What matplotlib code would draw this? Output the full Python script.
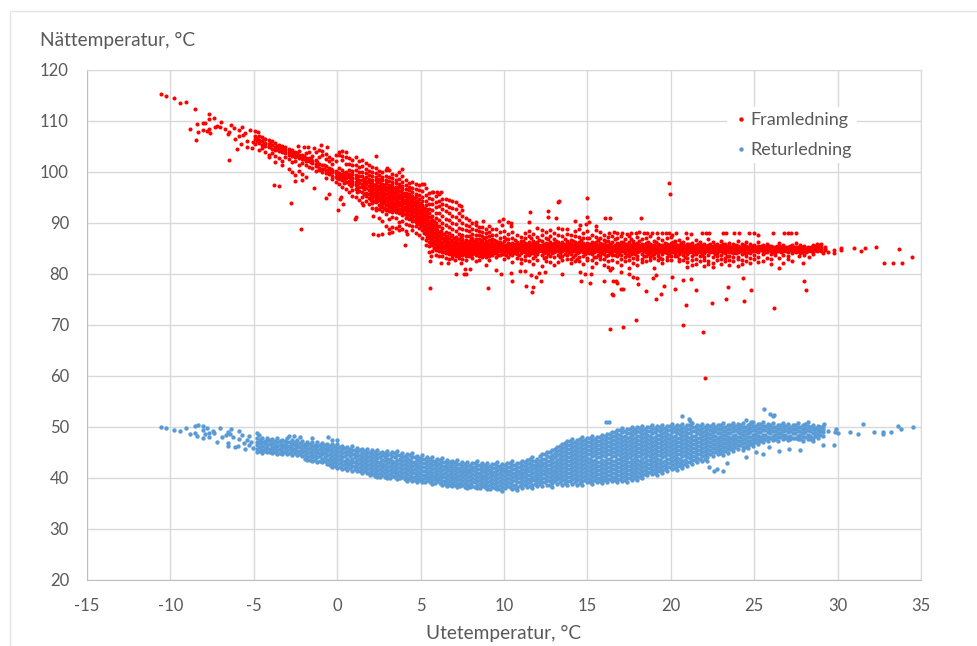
import matplotlib
matplotlib.use("Agg")
from matplotlib import pyplot as plt
from matplotlib.lines import Line2D

plt.rcParams['font.family'] = ['Lato', 'DejaVu Sans']
plt.rcParams['axes.unicode_minus'] = False

x_ticks = [-15, -10, -5, 0, 5, 10, 15, 20, 25, 30, 35]
y_ticks = [20, 30, 40, 50, 60, 70, 80, 90, 100, 110, 120]

# single points, (ute, natt)
fram_tail = [(-10.54,115.2),(-10.26,114.8),(-9.78,114.4),(-9.44,113.5),(-9.06,113.6),(-8.52,112.3),(-8.82,108.4),(-8.38,109.4),
    (-8.32,107.8),(-8.48,106.2),(-8.06,108.1),(-8.02,109.6),(-7.9,109.6),(-7.78,108),(-7.7,108.4),(-7.66,111.2),(-7.68,110.4),
    (-7.4,110.5),(-7.62,107.6),(-7.33,108.8),(-7.23,108.9),(-7.03,108.8),(-6.95,109.8),(-6.73,108.3),(-6.5,107.8),(-6.55,107.3),
    (-6.35,109.1),(-6.17,108.6),(-6.15,106.3),(-6,104.5),(-6.5,102.2),(-5.87,108.1),(-5.73,108.8),(-5.87,106.9),(-5.75,105.5),
    (-5.63,107.1),(-5.53,107.6),(-5.43,104.9),(-5.39,106),(-5.13,104.7),(-5.23,108.1),(-5.07,105.8),(-4.73,107.7)]

fram_low = [(-3.8,97.3),(-3.5,97.2),(-2.75,93.9),(-2.2,88.8),(-1.4,96.8),(-0.65,94.9),(-0.5,95.7),(0.05,92.5),(0.15,94.7),(0.25,95),
    (0.35,93.6),(1.05,90.8),(1.1,91.1),(1.55,93.4),(2.15,91.3),(2.35,92.4),(2.15,87.8),(2.45,87.6),(2.7,87.7),(3.1,88),(3.3,88.1),
    (3.7,88.5),(4.05,85.6),(4.2,87.7),(5.55,77.2),(5.55,82.4),(5.6,83.4),(5.5,84.3),(9.05,77.2),(6.25,82.1),(6.65,82.1),(7.05,82.6),
    (7.1,79.9),(7.6,80),(7.75,80),(7.65,80.9),(7.95,81),(7.4,82.1),(6.9,83.1),(8.3,82.4),(8.9,81.8),(9.54,80.7),(9.8,80),
    (10.5,78.5),(10.4,80.2),(10.94,80.5),(11.28,80.5),(11.3,77.6),(11.74,77.3),(11.7,76.4),(11.64,79.8),(11.94,79.4),(12.1,80.1),
    (12.2,78.5),(12.44,80.4),(13.48,80),(14.54,80.3),(14.62,78.5),(14.88,80),(15.14,78.1),(15.2,80),(15.97,78.5),(16.37,80.7),
    (16.53,78.6),(16.7,78.6),(16.8,78.1),(17.03,77.1),(17.13,77),(16.47,76),(16.55,75.8),(17.03,80.4),(17.5,80),(17.73,79.4),(18,79.1),
    (18.05,77.9),(18.53,76.7),(18.93,79.1),(19.13,79.8),(19.57,77.6),(19.43,76),(19.11,75.1),(20.05,79.3),(20.25,77.1),(20.71,78.7),
    (21.23,79),(21.53,76.8),(20.91,73.9),(22.49,74.3),(23.29,75),(23.41,77.4),(24.41,74.7),(24.33,79.1),(24.79,76.8),(26.18,73.2),
    (27.98,78.6),(28.12,76.8),(16.37,69.1),(17.15,69.6),(17.89,71),(20.73,70),(21.95,68.5),(22.03,59.5)]

fram_high = [(19.89,97.7),(19.93,95.7),(14.96,94.8),(13.24,94),(13.3,94.3),(12.64,92.2),(11.54,92.1),(12.66,91.1),(13.12,91),(14.96,91.1),
    (16.03,91),(16.33,91),(18.23,91),(11.5,90.1),(9.94,90.8),(9.7,90.3),(9.88,89.5),(10.24,90.1),(10.4,89.9),(10.44,89.3),(14.24,90.3),
    (15.1,90.2),(14.93,89.7),(14.57,89.6),(15.5,89.3),(2.35,103),(-2.35,105),(-2,104.8),(-1.75,104.8),(-1.4,104.7),(-0.95,105.3),
    (-0.6,104.9),(3,100.7),(3.9,100.6),(5.2,97.5),(5.75,96.1),(6,96.1),(6.2,96.1),(7.45,93.2),(7.5,92.4),(8.35,90.2),(8.75,90.4)]

fram_right = [(30.18,85),(30.2,84.6),(29.76,84),(29.8,84.7),(30.98,85),(31.4,84.5),(31.66,85),(32.3,85.3),(32.78,82),(33.3,82),
    (33.66,84.9),(33.85,82),(34.44,83.2),(29.4,84.2),(29.1,84),(28.3,83.2),(28.5,83.9),(27.95,82),(27.7,83.4)]

# the 88 degree row in the flat part
fram_row_x = [16.3,16.6,16.8,17.1,17.4,17.6,17.9,18.1,18.4,18.6,18.9,19.2,19.5,19.7,19.9,20.1,20.3,20.9,21.2,21.9,22.1,22.3,23.1,23.3,
    23.8,24.1,24.7,25,25.2,26.1,26.8,27,27.2,27.5]
fram_row_y = [88,88.1,87.9,88,87.7,88,88,88.1,88,87.9,88,88,88,87.9,88,87.6,88,88,87.7,88,88,88,88,87.9,88,88,88,88,87.5,88,88,88,88,88]

# thick parts: single dots can't be told apart here, so these columns are
# estimates that follow the extent of the band, not the original measurements
fram_cold = [
(-4.9,[107.9,107,106.3,105.4]),(-4.7,[106.9,106.2,105.6,104.2]),(-4.5,[106.7,106,105.3,104.6]),(-4.3,[106.4,105.7,105.1,103.9]),
(-4.1,[106.1,105.4,104.8,103.3,102.9]),(-3.9,[105.9,105.2,104.5,103.7]),(-3.7,[105.6,104.9,104.2,103.1,101.9]),(-3.5,[105.3,104.7,104.1,102.7]),
(-3.3,[105.1,104.4,103.8,102.1,101.2]),(-3.1,[104.9,104.2,103.6,102.9]),(-2.9,[104.4,103.9,103.3,102.4,100.6]),(-2.7,[104.2,103.7,103.1,101.8,99.9]),
(-2.5,[103.9,103.4,102.9,102.1,99.4,98.2]),(-2.3,[104,103.2,102.6,101.3,100.2]),(-2.1,[103.2,102.9,102.4,101.7,99.5,98.3]),(-1.9,[103.6,102.7,102.1,101.2,98.9]),
(-1.7,[103.9,102.6,102,100.9]),(-1.5,[103.1,102.1,101.6,100.7]),(-1.3,[103.8,102.3,101.5,101,100.1]),(-1.1,[104.3,102.9,101.4,100.8,100.3]),
(-0.9,[104.1,103.2,101.3,100.6,100]),(-0.7,[103.4,102.5,101,100.3,99.7,98.8]),(-0.5,[102.9,102.1,100.8,100.1,99.5]),(-0.3,[102.4,101.5,100.4,99.9,99.2,98.5]),
(-0.1,[103.3,102,100.2,99.7,98.9,97.9]),(0.1,[103.9,103.2,100.7,99.8,99.2,98.6,97.5]),(0.3,[104,103.1,102.2,100.3,99.5,98.9,98.3,97]),(0.5,[103.8,102.9,101.5,100,99.3,98.7,98,96.6]),
(0.7,[102.6,101.4,100.4,99.5,98.9,98.2,97.5,96.1]),(0.9,[102.3,101.2,100.2,99.5,98.7,98.1,97.5,96.4,95.3]),(1.1,[102.8,101.3,100.3,99.4,98.7,98,97.3,96.5,95.1]),(1.3,[102.1,100.9,100,99.2,98.4,97.7,97,96.2,94.4]),
(1.5,[102.3,101,100,99.1,98.3,97.6,96.9,96.1,95.1,93.9]),(1.7,[101.7,100.6,99.7,98.9,98.2,97.5,96.7,95.9,95.2,94.2]),(1.9,[101.3,100.1,99.3,98.6,97.9,97.2,96.4,95.7,94.9,93.7]),(2.1,[100.9,100,99.1,98.4,97.7,97,96.3,95.6,94.8,93.8,92.9]),
(2.3,[100.8,99.8,99,98.3,97.6,96.8,96.1,95.4,94.7,94,92.8]),(2.5,[100.1,99.3,98.6,97.9,97.2,96.5,95.8,95.1,94.4,93.4,92.6,90.9]),(2.7,[99.9,99,98.3,97.6,96.9,96.2,95.5,94.8,94.1,93.3,92.3,90.3]),(2.9,[100.4,99.2,98.4,97.7,97,96.3,95.6,94.9,94.2,93.5,92.5,91.6,89.4]),
(3.1,[100.3,98.9,98.1,97.4,96.7,96,95.3,94.6,93.9,93.1,92.3,90.7,88.7]),(3.3,[99.6,98.8,98,97.3,96.6,95.9,95.2,94.5,93.8,93,92.1,91.1,89.2]),(3.5,[99.4,98.4,97.7,97,96.3,95.6,94.9,94.2,93.5,92.8,92,90.9,88.9]),(3.7,[99.9,98.5,97.6,96.9,96.2,95.5,94.8,94.1,93.4,92.7,91.9,90.1,89.3]),
(3.9,[99.1,97.9,97.2,96.5,95.8,95.1,94.4,93.7,93,92.3,91.5,90.4,88.7]),(4.1,[98.3,97.3,96.6,95.9,95.2,94.5,93.8,93.1,92.4,91.7,90.9,89.8,88.4]),(4.3,[97.7,97,96.4,95.7,95,94.3,93.6,92.9,92.2,91.5,90.8,89.6]),(4.5,[97.9,96.8,96,95.3,94.6,93.9,93.2,92.5,91.8,91.1,90.4,89.4,88.5]),
(4.7,[97.6,96.5,95.7,95,94.3,93.6,92.9,92.2,91.5,90.8,90.1,89.3,87.9]),(4.9,[97.4,96.4,95.4,94.6,93.9,93.2,92.5,91.8,91.1,90.4,89.7,89,87.5]),(5.1,[97.5,96.2,95,94.2,93.5,92.8,92.1,91.4,90.7,90,89.3,88.6,87]),(5.3,[96.8,95.4,94.3,93.4,92.6,91.9,91.2,90.5,89.8,89.1,88.4,87.7,86.6,85.6]),
(5.5,[95.9,94.8,93.7,92.7,91.9,91.1,90.4,89.7,89,88.3,87.6,86.9,86.2,85.5]),(5.7,[96,94.6,93.6,92.5,91.4,90.6,89.8,89.1,88.4,87.7,87,86.3,85.6,84.5]),(5.9,[95.2,94,93,91.9,90.9,89.9,89,88.2,87.5,86.8,86.1,85.4,84.7,83.7]),(6.1,[95.6,94.3,93.2,91.8,90.6,89.4,88.1,87.3,86.6,85.9,85.2,84.4,83.4]),
(6.3,[94.7,93.7,92.6,91.3,90,88.9,87.8,87,86.3,85.6,84.9,84.2,83.5]),(6.5,[94.6,93.5,92.2,90.8,89.6,88.2,87.1,86.5,85.9,85.3,84.7,84,83.1]),(6.7,[94.5,93.1,91.9,90.6,89.2,87.9,86.9,86.3,85.7,85.1,84.5,83.9,82.9]),(6.9,[94.3,92.9,91.4,90,88.7,87.6,86.6,86,85.4,84.8,84.2,83.6]),
(7.1,[94.1,92.6,91.2,89.8,88.4,87.2,86.4,85.8,85.2,84.6,84,83.4]),(7.3,[93.5,91.9,90.5,89,87.8,86.8,86.1,85.5,84.9,84.3,83.7,83]),(7.5,[91.4,90,88.7,87.6,86.7,86,85.4,84.8,84.2,83.6,82.9]),(7.7,[90.9,89.6,88.5,87.4,86.6,85.9,85.3,84.7,84.1,83.5,82.7]),
(7.9,[90.6,89.4,88.3,87.3,86.5,85.8,85.2,84.6,84,83.4]),(8.1,[89.9,88.8,87.8,86.9,86.2,85.6,85,84.4,83.8,83]),(8.3,[89.6,88.5,87.6,86.8,86.1,85.5,84.9,84.3,83.6]),(8.5,[89.2,88.3,87.5,86.7,86,85.4,84.8,84.2,83.4,82.6]),
(8.7,[89.1,88.1,87.3,86.6,85.9,85.3,84.7,84.1,83.3]),(8.9,[88.7,87.9,87.1,86.4,85.8,85.2,84.6,84,83.2]),(9.1,[89.3,88.2,87.4,86.6,85.9,85.3,84.7,84.1,83.5,82.6]),(9.3,[88.8,87.6,86.8,86.1,85.5,84.9,84.3,83.7]),
]

# in between the columns above, where the picture is solid
fram_fill = [
(-4.8,[106.6,105.9]),(-4.4,[106.3,105.5]),(-4,[105.7,105]),(-3.6,[105.1,104.4]),(-3.2,[104.7,104]),(-2.8,[104,103.5]),(-2.4,[103.6,103]),(-2,[103,102.5]),(-1.6,[102.4,101.8]),(-1.2,[101.9,101.2]),
(-0.8,[101.2,100.5]),(-0.4,[100.6,99.9]),(0,[100,99.4,98.8]),(0.4,[99.7,99.1,98.5,97.8]),(0.8,[99.2,98.5,97.8,97.2]),(1.2,[98.9,98.2,97.5,96.8,96]),(1.6,[98.6,97.9,97.2,96.5,95.7]),(2,[98.1,97.4,96.7,96,95.3,94.4]),
(2.2,[97.3,96.6,95.9,95.2,94.3]),(2.4,[97.9,97.1,96.4,95.7,95,94.2]),(2.6,[97.5,96.8,96.1,95.4,94.7,93.9,93]),(2.8,[97.3,96.6,95.9,95.2,94.5,93.8,92.9]),(3,[97,96.3,95.6,94.9,94.2,93.5,92.7]),(3.2,[96.9,96.2,95.5,94.8,94.1,93.4,92.6]),
(3.4,[96.7,96,95.3,94.6,93.9,93.2,92.4]),(3.6,[96.5,95.8,95.1,94.4,93.7,93,92.3]),(3.8,[96.2,95.5,94.8,94.1,93.4,92.7,92]),(4,[95.9,95.2,94.5,93.8,93.1,92.4,91.7]),(4.2,[95.6,94.9,94.2,93.5,92.8,92.1,91.3]),(4.4,[95.2,94.5,93.8,93.1,92.4,91.7,90.9]),
(4.6,[94.8,94.1,93.4,92.7,92,91.3,90.5]),(4.8,[94.2,93.5,92.8,92.1,91.4,90.7,89.9]),(5,[93.6,92.9,92.2,91.5,90.8,90.1,89.3]),(5.2,[92.9,92.2,91.5,90.8,90.1,89.4,88.7,87.9]),(5.4,[92.1,91.4,90.7,90,89.3,88.6,87.9,87.2]),(5.6,[91.1,90.3,89.6,88.9,88.2,87.5,86.8,86.1]),
(5.8,[90.3,89.5,88.7,87.9,87.2,86.5,85.8,85.1]),(6,[89.3,88.6,87.8,87,86.3,85.6,84.9]),(6.2,[88.4,87.6,86.9,86.2,85.5,84.8]),(6.4,[87.7,87,86.4,85.7,85,84.3]),(6.6,[87.4,86.7,86.1,85.5,84.9,84.3]),(6.8,[87.3,86.5,85.9,85.3,84.7,84.1]),
(7,[86.9,86.2,85.6,85,84.4,83.8]),(7.2,[86.7,86.1,85.5,84.9,84.3,83.7]),(7.4,[87.2,86.4,85.7,85.1,84.5,83.9]),(7.6,[86.3,85.6,85,84.4,83.8]),(7.8,[86.1,85.5,84.9,84.3,83.7]),(8,[86.7,85.9,85.3,84.7,84.1,83.5]),
(8.2,[86.4,85.8,85.2,84.6,84]),(8.4,[86.3,85.7,85.1,84.5,83.9]),(8.6,[86.2,85.6,85,84.4,83.8]),(8.8,[86.9,86.1,85.5,84.9,84.3,83.6]),(9,[86.2,85.6,85,84.4,83.9]),(9.2,[86.4,85.7,85.1,84.5,83.9]),(9.4,[86.6,85.8,85.2,84.6,84]),
(9.62,[86.3,85.6,85,84.4,83.6]),(9.88,[85.8,85.2,84.6,83.9]),(10.12,[86.7,85.7,85.1,84.5,83.7]),(10.38,[85.9,85.2,84.6,83.8]),(10.63,[86.6,85.8,85.2,84.6,84]),(10.88,[85.9,85.3,84.7,83.6]),(11.12,[86.4,85.6,85,84.4]),(11.38,[85.8,85.2,84.6,83.9]),
(11.63,[86.9,85.9,85.3,84.7,84.1]),(11.88,[86,85.4,84.8,84.2,83.4]),(12.12,[86.6,85.7,85.1,84.5]),(12.38,[85.9,85.3,84.7,84,83]),(12.63,[86.7,85.8,85.2,84.6,83.9]),(12.88,[85.8,85.2,84.6,84.1]),(13.12,[86.4,85.7,85.1,84.5]),(13.38,[85.9,85.3,84.7,84,83.2]),
(13.63,[86.8,85.8,85.2,84.6,83.8]),(13.88,[86,85.4,84.8,84.2]),(14.12,[86.5,85.6,85,84.4,83.3]),(14.38,[85.9,85.3,84.7,84,82.8]),(14.63,[86.6,85.8,85.2,84.6]),(14.88,[85.7,85.1,84.5,83.9]),(15.12,[86.9,85.9,85.3,84.7,84.1]),(15.38,[86,85.4,84.8,84.2,83.2]),
(15.63,[86.6,85.7,85.1,84.5,83.7]),(15.88,[85.9,85.3,84.7,84.1]),(16.12,[86.4,85.6,85,84.4,83.4]),(16.38,[85.8,85.2,84.6,84]),(16.63,[86.7,85.7,85.1,84.5,83.6]),(16.88,[85.8,85.2,84.6,83.9]),(17.12,[86.2,85.6,85,84.4]),(17.38,[85.8,85.2,84.6,83.7]),
(17.63,[86.8,85.7,85.1,84.5,83.9]),(17.88,[85.8,85.2,84.6,83.8]),(18.12,[86.4,85.6,85,84.4]),(18.38,[85.7,85.1,84.5,83.5]),(18.63,[86.2,85.6,85,84.4,83.8]),(18.88,[85.7,85.1,84.5,83.6]),(19.12,[86.3,85.5,84.9,84.3]),(19.38,[85.6,85,84.4,83]),
(19.63,[86.1,85.5,84.9,84.3]),(19.88,[85.6,85,84.4,83.6]),(20.12,[86.2,85.5,84.9,84.3]),(20.38,[85.6,85,84.4,83.5]),(20.63,[86,85.4,84.8,84.2]),(20.88,[85.5,84.9,84.3,83.3]),(21.12,[85.8,85.3,84.8,84.2]),(21.38,[85.5,84.9,84.4,83.8]),
(21.63,[85.9,85.3,84.8,84.2]),(21.88,[85.6,85,84.5,83.6]),(22.12,[85.4,84.9,84.4]),(22.38,[85.8,85.3,84.8,84.3]),(22.63,[85.6,85,84.5,83.8]),(22.88,[85.4,84.9,84.4]),(23.12,[85.8,85.2,84.7,84.2]),(23.38,[85.5,85,84.5,83.5]),
(23.63,[85.3,84.8,84.3]),(23.88,[85.6,85.1,84.6,84.1]),(24.12,[85.3,84.8,84.4]),(24.38,[85.6,85.1,84.6,84]),(24.63,[85.2,84.7,84.3]),(24.88,[85.5,85,84.5]),(25.12,[85.3,84.8,84.4]),(25.38,[85.5,85,84.6]),
(25.63,[85.2,84.8,84.3]),(25.88,[85.5,85,84.6]),(26.12,[85.2,84.7,84.3]),(26.38,[85.4,84.9,84.5]),(26.63,[85.2,84.7,84.2]),(26.88,[85.3,84.9,84.5]),(27.12,[85.4,85,84.6]),(27.38,[85.2,84.8,84.4]),
(27.63,[85.3,84.9,84.5]),(27.88,[85.2,84.7,84.3]),(28.12,[85.1,84.7,84.3]),(28.38,[85.3,84.9,84.5]),(28.63,[85.4,85,84.6]),(28.88,[85.6,85.1,84.7]),
]

fram_flat = [
(9.5,[88.7,87.5,86.5,85.9,85.3,84.7,84.1,83.2]),(9.75,[88.1,87,86.2,85.6,85,84.4,83.7]),(10,[88.3,87.2,86.4,85.7,85.1,84.5,83.9,82.8]),(10.25,[87.8,86.8,86,85.4,84.8,84.2,83.3]),
(10.5,[88.2,86.9,86.1,85.5,84.9,84.3,83.6,82.2]),(10.75,[87.5,86.3,85.7,85.1,84.5,83.9,83]),(11,[87.1,86.4,85.8,85.2,84.6,84,82.9,82.1]),(11.25,[87.9,87,86.1,85.5,84.9,84.3,83.4,82.7]),
(11.5,[88.4,87.3,86.3,85.6,85,84.4,83.7,82.4]),(11.75,[87.7,86.4,85.8,85.2,84.6,84,83.1,81.9]),(12,[88.9,87.2,86.3,85.7,85.1,84.5,83.8,82.7]),(12.25,[88.6,87.6,86.4,85.7,85.1,84.5,83.6,81.6]),
(12.5,[88.2,87,86.1,85.5,84.9,84.3,83.2,82.5]),(12.75,[88.5,87.3,86.3,85.6,85,84.4,83.5,82.2]),(13,[87.9,86.8,86,85.4,84.8,84.2,83.3,81.8]),(13.25,[88.9,87.5,86.2,85.6,85,84.4,83.7,82.3]),
(13.5,[88.7,87.4,86.2,85.6,85,84.4,83.4,82.6]),(13.75,[88.8,87.8,86.5,85.7,85.1,84.5,83.6,82.9]),(14,[87.6,86.6,85.8,85.2,84.6,83.9,82.9,82]),(14.25,[88.4,87.4,86.3,85.6,85,84.4,83.6,82.4]),
(14.5,[88.7,87.2,86.2,85.5,84.9,84.3,83.2,82.5]),(14.75,[87.9,86.9,86,85.4,84.8,84.2,83.5,81.9]),(15,[88.3,87,86.1,85.5,84.9,84.3,83.1,82.6]),(15.25,[87.5,86.3,85.7,85.1,84.5,83.8,82.7,81.4]),
(15.5,[88.6,87.1,86.2,85.6,85,84.4,83.3,82.1]),(15.75,[88.2,87,86.1,85.5,84.9,84.2,83.5,82.8]),(16,[87.6,86.6,85.8,85.2,84.6,83.9,82.9,81.8]),(16.25,[87.2,86.4,85.7,85.1,84.5,83.7,82.4,81.3]),
(16.5,[87.3,86.2,85.5,84.9,84.3,83.6,82.7,81.2]),(16.75,[86.9,86.1,85.5,84.9,84.3,83.4,82.2]),(17,[87.3,86.3,85.6,85,84.4,83.7,82.9,81.7]),(17.25,[86.8,85.9,85.3,84.7,84.1,83.2,82.4]),
(17.5,[87.4,86.2,85.5,84.9,84.3,83.5,82.6,81.1]),(17.75,[86.5,85.8,85.2,84.6,84,83.1,82.1]),(18,[87.2,86.1,85.5,84.9,84.3,83.4,82.8,81.7]),(18.25,[86.8,85.8,85.2,84.6,83.9,82.9,82.3]),
(18.5,[86.9,86,85.4,84.8,84.2,83.4,82.5]),(18.75,[87.3,85.8,85.2,84.6,84,83.2,82.7]),(19,[86.4,85.7,85.1,84.5,83.8,83,81.2]),(19.25,[87,85.9,85.3,84.7,84.1,83.4,82.6]),
(19.5,[86.6,85.7,85.1,84.5,83.8,82.9,82.1]),(19.75,[86.9,85.8,85.2,84.6,84,83.2,82.6]),(20,[87.2,86,85.4,84.8,84.2,83.5,82.7]),(20.25,[86.5,85.8,85.2,84.6,84,83.4]),
(20.5,[86.6,85.7,85.1,84.5,83.9,82.9,82.4]),(20.75,[86.3,85.6,85,84.4,83.7,82.6]),(21,[86.9,85.8,85.2,84.6,83.9,83.1,82.3,81.4]),(21.25,[86.1,85.5,84.9,84.3,83.5,82.7,81.7]),
(21.5,[86.6,85.7,85.1,84.5,83.8,82.9,81.9]),(21.75,[86.2,85.5,84.9,84.3,83.4,82.4]),(22,[85.9,85.3,84.7,84.1,83.2,82.7,81.6]),(22.25,[86.7,85.7,85.1,84.5,83.6,82.5,81.9]),
(22.5,[86.3,85.5,84.9,84.3,83.3,82.1,81.4]),(22.75,[85.9,85.3,84.7,84.1,83.4,82.6]),(23,[86.5,85.6,85,84.4,83.7,82.8,81.9]),(23.25,[85.8,85.2,84.6,84,83.1,82.4]),
(23.5,[86.1,85.4,84.8,84.2,83.4,82.7,81.7]),(23.75,[85.9,85.3,84.7,84,83.2,82.5]),(24,[86.4,85.5,84.9,84.3,83.3,82.8,81.6]),(24.25,[85.8,85.2,84.6,83.9,82.7,81.9]),
(24.5,[86.2,85.4,84.8,84.1,83.4,82.4]),(24.75,[85.9,85.3,84.7,84.1,83,82]),(25,[85.6,85,84.4,83.6,82.8]),(25.25,[86.3,85.5,84.9,84.3,83.3,82.2]),
(25.5,[85.6,85,84.5,83.8,82.4]),(25.75,[85.9,85.3,84.8,84.2,83.1]),(26,[85.5,85,84.5,83.9,82.8,81.9]),(26.25,[85.3,84.8,84.3,83.6]),
(26.5,[86,85.4,84.9,84.4,83.1,81.2]),(26.75,[85.6,85,84.5,83.7,82.1]),(27,[85.3,84.8,84.3,83.4,82.9]),(27.25,[85.7,85.1,84.6,84.1,82.4]),
(27.5,[86.1,85.3,84.8,84.3]),(27.75,[85.6,85.1,84.6,84.1]),(28,[85.4,84.9,84.5,83.7]),(28.25,[85.2,84.8,84.4]),
(28.5,[85.6,85.1,84.7,84.3]),(28.75,[85.9,85.3,84.9,84.5]),(29,[85.8,85.2,84.8,84.4]),(29.25,[85.3,84.9,84.6]),
]

ret_tail = [(-10.54,49.9),(-10.26,49.8),(-9.78,49.4),(-9.44,49.2),(-9.06,49.8),(-8.82,48.6),(-8.52,50.1),(-8.32,50.3),(-8.52,48.8),(-8.38,48.3),
    (-8.06,50.1),(-8.02,47.8),(-7.82,49.8),(-8.02,49.3),(-7.92,48.6),(-7.66,48.8),(-7.68,48),(-7.42,49.2),(-7.38,48.7),(-7.02,49.7),(-7.22,47),
    (-6.92,48),(-6.68,48.4),(-6.54,49),(-6.38,49.5),(-6.42,48.6),(-6.56,46.9),(-6.52,46.3),(-6.12,46.1),(-5.88,49.2),(-5.72,48.5),(-5.86,47.6),
    (-6.22,48),(-5.92,46.2),(-5.52,45.6),(-5.42,47.5),(-5.28,48.2),(-4.82,48.8),(-4.66,48.5),(-2.88,48.3),(-2.56,48.2),(-2.22,48),(-1.52,47.8),
    (-0.58,48),(-0.32,47.4),(-0.02,47.4),(-5.6,46.9),(-5.3,46.4),(-5.15,47),(-5.05,45.9)]

ret_right = [(29.2,50.5),(29.9,49.5),(30,48.8),(30.75,49),(31.2,48.6),(31.5,50.5),(32.2,49),(32.7,48.9),(32.75,48.6),(33.2,49),(33.6,50.2),
    (33.8,49.6),(34.5,49.9),(29.4,49.1),(29.85,48.9),(29.1,46.4),(29.8,46.5),(26.5,45.3),(27.1,45.6),(27.75,45.5),(25.5,44.6),(22.3,42.2),
    (22.6,41.3),(22.75,41.7),(23.15,41.4),(23.35,43),(24.5,44),(25.1,45),(25.9,46),(16.1,51),(16.3,51),(20.7,52.2),(21.1,51.6),(21.15,51.1),
    (24.5,51.4),(24.8,51),(25.6,53.5),(25.95,52.6),(26.1,52.1),(26.2,52.3)]

ret_cols = [
(-4.8,[47.9,47.1,46.4,45.7,45.1]),(-4.5,[47.8,47,46.2,45.5,44.8]),(-4.2,[47.9,47.2,46.5,45.8,45.1]),(-3.9,[47.6,46.8,46.1,45.4,44.8]),(-3.6,[47.8,47.1,46.3,45.5,44.7]),
(-3.3,[47.5,46.7,46,45.3,44.6]),(-3,[47.9,47.1,46.3,45.5,44.7]),(-2.7,[47.4,46.7,45.9,45.2,44.5]),(-2.4,[47.5,46.7,46,45.3,44.5]),(-2.1,[47.2,46.5,45.7,45,44.2]),
(-1.8,[47.1,46.4,45.6,44.9,44.1,43.5]),(-1.5,[47,46.3,45.5,44.7,44,43.3]),(-1.2,[47.1,46.3,45.5,44.8,44,43.2]),(-0.9,[46.8,46.1,45.3,44.6,43.8,43.1]),(-0.6,[46.7,45.9,45.2,44.4,43.6,42.8]),
(-0.3,[46.6,45.8,45,44.3,43.5,42.7,42.1]),(0,[46.7,45.9,45.1,44.3,43.5,42.7,42]),(0.3,[46.3,45.6,44.8,44,43.3,42.5,41.8]),(0.6,[46.1,45.3,44.6,43.8,43,42.3,41.6]),(0.9,[46.2,45.4,44.6,43.8,43.1,42.3,41.4]),
(1.2,[45.9,45.1,44.3,43.5,42.8,42,41.3]),(1.5,[45.6,44.9,44.1,43.4,42.6,41.8,41]),(1.8,[45.7,44.9,44.1,43.3,42.5,41.8,41]),(2.1,[45.4,44.6,43.9,43.1,42.3,41.6,40.8]),(2.4,[45.5,44.7,43.9,43.1,42.4,41.6,40.8,40.1]),
(2.7,[45.1,44.4,43.6,42.8,42.1,41.3,40.5]),(3,[45.3,44.5,43.7,42.9,42.1,41.4,40.6,39.9]),(3.3,[45,44.2,43.4,42.7,41.9,41.1,40.3]),(3.6,[45.2,44.4,43.6,42.8,42,41.2,40.5,39.7]),(3.9,[44.9,44.1,43.3,42.6,41.8,41,40.2]),
(4.2,[44.6,43.9,43.1,42.3,41.6,40.8,40,39.4]),(4.5,[44.8,44,43.2,42.4,41.6,40.9,40.1,39.4]),(4.8,[44.3,43.6,42.8,42.1,41.3,40.5,39.8,39.2]),(5.1,[44.5,43.7,42.9,42.1,41.4,40.6,39.8,39.1]),(5.4,[44,43.3,42.5,41.8,41,40.2,39.5]),
(5.7,[44.1,43.3,42.6,41.8,41,40.3,39.5,38.9]),(6,[43.8,43,42.3,41.5,40.8,40,39.3]),(6.3,[43.9,43.1,42.3,41.6,40.8,40.1,39.3,38.7]),(6.6,[43.5,42.8,42,41.3,40.5,39.8,39,38.5]),(6.9,[43.4,42.7,41.9,41.2,40.4,39.7,39,38.4]),
(7.2,[43.5,42.7,41.9,41.2,40.4,39.6,38.9,38.3]),(7.5,[43.1,42.4,41.6,40.9,40.1,39.4,38.7]),(7.8,[43.2,42.4,41.6,40.9,40.1,39.4,38.6,38]),(8.1,[43,42.2,41.5,40.7,40,39.2,38.5]),(8.4,[43.3,42.5,41.7,40.9,40.2,39.4,38.7,38.1]),
(8.7,[42.9,42.1,41.4,40.6,39.9,39.1,38.4]),(9,[43,42.2,41.5,40.7,40,39.2,38.5,37.9]),(9.3,[42.7,42,41.2,40.5,39.7,39,38.3]),(9.6,[43.1,42.3,41.5,40.8,40,39.2,38.5,37.8]),(9.9,[42.8,42,41.3,40.5,39.8,39,38.3,37.5]),
(10.2,[43,42.2,41.4,40.7,39.9,39.2,38.4]),(10.5,[43.3,42.5,41.7,40.9,40.2,39.4,38.6,37.9]),(10.8,[42.9,42.1,41.4,40.6,39.9,39.1,38.3,37.6]),(11.1,[43.4,42.6,41.8,41,40.3,39.5,38.8,38.1]),(11.4,[43.6,42.8,42,41.3,40.5,39.8,39,38.3]),
(11.7,[44.1,43.3,42.5,41.7,41,40.2,39.5,38.7,38]),(12,[43.8,43,42.3,41.5,40.8,40,39.2,38.5]),(12.3,[44.6,43.8,43,42.3,41.5,40.7,40,39.2,38.5]),(12.6,[45.1,44.2,43.4,42.6,41.8,41.1,40.3,39.5,38.7]),(12.9,[45.4,44.5,43.7,42.9,42.1,41.3,40.5,39.7,39,38.3]),
(13.2,[46,45.2,44.4,43.6,42.8,42,41.2,40.4,39.7,38.9]),(13.5,[46.7,45.9,45.1,44.3,43.5,42.7,41.9,41.1,40.3,39.5,38.7]),(13.8,[47.3,46.5,45.7,44.9,44.1,43.3,42.5,41.7,40.9,40.1,39.3,38.6]),(14.1,[47.7,46.9,46.1,45.3,44.5,43.7,42.9,42.1,41.3,40.5,39.7,38.9]),(14.4,[47.5,46.7,45.9,45.1,44.3,43.5,42.7,41.9,41.1,40.3,39.5,38.7]),
(14.7,[48.1,47.3,46.5,45.7,44.9,44.1,43.3,42.5,41.7,40.9,40.1,39.3,38.7]),(15,[47.9,47.1,46.3,45.5,44.7,43.9,43.1,42.3,41.5,40.7,39.9,39.1]),(15.3,[48.2,47.4,46.6,45.8,45,44.2,43.4,42.6,41.8,41,40.2,39.4,38.8]),(15.6,[48,47.2,46.4,45.6,44.8,44,43.2,42.4,41.6,40.8,40,39.2]),(15.9,[48.4,47.6,46.8,46,45.2,44.4,43.6,42.8,42,41.2,40.4,39.6,39]),
(16.2,[48.6,47.8,47,46.2,45.4,44.6,43.8,43,42.2,41.4,40.6,39.8,39.1]),(16.5,[49,48.2,47.4,46.6,45.8,45,44.2,43.4,42.6,41.8,41,40.2,39.4]),(16.8,[49.4,48.6,47.8,47,46.2,45.4,44.6,43.8,43,42.2,41.4,40.6,39.8,39.1]),(17.1,[49.7,48.9,48.1,47.3,46.5,45.7,44.9,44.1,43.3,42.5,41.7,40.9,40.1,39.3]),(17.4,[49.5,48.7,47.9,47.1,46.3,45.5,44.7,43.9,43.1,42.3,41.5,40.7,39.9,39.2]),
(17.7,[50,49.2,48.4,47.6,46.8,46,45.2,44.4,43.6,42.8,42,41.2,40.4,39.6]),(18,[49.9,49.1,48.3,47.5,46.7,45.9,45.1,44.3,43.5,42.7,41.9,41.1,40.3,39.5]),(18.3,[50.2,49.4,48.6,47.8,47,46.2,45.4,44.6,43.8,43,42.2,41.4,40.6,39.9]),(18.6,[50,49.2,48.4,47.6,46.8,46,45.2,44.4,43.6,42.8,42,41.2,40.5]),(18.9,[50.3,49.5,48.7,47.9,47.1,46.3,45.5,44.7,43.9,43.1,42.3,41.5,40.7]),
(19.2,[50.1,49.3,48.5,47.7,46.9,46.1,45.3,44.5,43.7,42.9,42.1,41.3,40.6]),(19.5,[50.4,49.6,48.8,48,47.2,46.4,45.6,44.8,44,43.2,42.4,41.6,40.9]),(19.8,[50.2,49.4,48.6,47.8,47,46.2,45.4,44.6,43.8,43,42.2,41.4]),(20.1,[50.5,49.7,48.9,48.1,47.3,46.5,45.7,44.9,44.1,43.3,42.5,41.7]),(20.4,[50.3,49.5,48.7,47.9,47.1,46.3,45.5,44.7,43.9,43.1,42.3,41.6]),
(20.7,[50.6,49.8,49,48.2,47.4,46.6,45.8,45,44.2,43.4,42.6,41.9]),(21,[50.4,49.6,48.8,48,47.2,46.4,45.6,44.8,44,43.2,42.4]),(21.3,[50.7,49.9,49.1,48.3,47.5,46.7,45.9,45.1,44.3,43.5,42.7]),(21.6,[50.3,49.5,48.7,47.9,47.1,46.3,45.5,44.7,43.9,43.1]),(21.9,[50.6,49.8,49,48.2,47.4,46.6,45.8,45,44.2,43.3]),
(22.2,[50.4,49.6,48.8,48,47.2,46.4,45.6,44.8,44,43.4]),(22.5,[50.6,49.8,49,48.2,47.4,46.6,45.8,45,44.3]),(22.8,[50.3,49.5,48.7,47.9,47.1,46.3,45.5,44.6]),(23.1,[50.8,50,49.2,48.4,47.6,46.8,46,45.2,44.5]),(23.4,[50.4,49.6,48.8,48,47.2,46.4,45.6,44.9]),
(23.7,[50.7,49.9,49.1,48.3,47.5,46.7,45.9,45.3]),(24,[50.5,49.7,48.9,48.1,47.3,46.5,45.7]),(24.3,[50.8,50,49.2,48.4,47.6,46.8,46,45.4]),(24.6,[50.4,49.6,48.8,48,47.2,46.4,45.8]),(24.9,[50.9,50.1,49.3,48.5,47.7,46.9,46.2]),
(25.2,[50.6,49.8,49,48.2,47.4,46.6]),(25.5,[50.9,50.1,49.3,48.5,47.7,47]),(25.8,[50.5,49.7,48.9,48.1,47.3]),(26.1,[50.7,49.9,49.1,48.3,47.5]),(26.4,[50.4,49.6,48.8,48,47.2]),
(26.7,[50.8,50,49.2,48.4,47.6]),(27,[50.5,49.7,48.9,48.1,47.4]),(27.3,[50.3,49.5,48.7,47.9]),(27.6,[50.7,49.9,49.1,48.3,47.6]),(27.9,[50.4,49.6,48.8,48,47.3]),
(28.2,[50.9,50.1,49.3,48.5,47.7]),(28.5,[50.3,49.5,48.7,47.9,47.3]),(28.8,[50.2,49.4,48.6,47.9]),(29.1,[50.2,49.6,48.9,48.3]),
]

# second set between the return columns, the band is solid in the picture
ret_fill = [
(-4.65,[47.5,46.8,46,45.3]),(-4.35,[47.3,46.6,45.9,45.2]),(-4.05,[47.4,46.6,45.7,45]),(-3.75,[47.2,46.5,45.8,45.1]),(-3.45,[47.2,46.4,45.7,44.9]),(-3.15,[47.3,46.5,45.8,45]),(-2.85,[47,46.3,45.6,44.9]),
(-2.55,[47.1,46.4,45.6,44.8]),(-2.25,[46.9,46.1,45.3,44.6]),(-1.95,[46.7,46,45.2,44.5,43.8]),(-1.65,[46.7,45.9,45.1,44.3,43.6]),(-1.35,[46.5,45.8,45,44.3,43.6]),(-1.05,[46.5,45.7,44.9,44.2,43.4]),(-0.75,[46.4,45.6,44.8,44,43.3]),
(-0.45,[46.2,45.4,44.7,43.9,43.1,42.5]),(-0.15,[46.3,45.5,44.7,43.9,43.1,42.4]),(0.15,[46,45.2,44.4,43.7,42.9,42.2]),(0.45,[45.8,45,44.2,43.4,42.7,41.9]),(0.75,[45.7,45,44.2,43.4,42.7,41.9]),(1.05,[45.5,44.7,44,43.2,42.4,41.7]),(1.35,[45.4,44.5,43.7,43,42.2,41.4]),
(1.65,[45.2,44.5,43.7,42.9,42.2,41.4]),(1.95,[45.1,44.3,43.5,42.7,42,41.2,40.5]),(2.25,[45,44.3,43.5,42.7,42,41.2,40.4]),(2.55,[44.8,44,43.2,42.5,41.7,40.9,40.2]),(2.85,[44.9,44.1,43.3,42.5,41.8,41,40.2]),(3.15,[44.6,43.8,43.1,42.3,41.5,40.8,40]),(3.45,[44.8,44,43.2,42.4,41.6,40.9,40.1]),
(3.75,[44.5,43.7,43,42.2,41.4,40.6,39.9]),(4.05,[44.3,43.5,42.7,42,41.2,40.4,39.7]),(4.35,[44.4,43.5,42.7,41.9,41.2,40.4,39.7]),(4.65,[44,43.2,42.5,41.7,40.9,40.2,39.5]),(4.95,[43.9,43.2,42.4,41.7,41,40.2,39.5]),(5.25,[43.7,42.9,42.2,41.4,40.6,39.9,39.2]),(5.55,[43.7,42.9,42.2,41.4,40.6,39.9,39.2]),
(5.85,[43.4,42.7,41.9,41.1,40.4,39.7,39]),(6.15,[43.5,42.7,41.9,41.2,40.4,39.7,39]),(6.45,[43.2,42.4,41.7,40.9,40.2,39.4,38.8]),(6.75,[43.1,42.4,41.6,40.8,40.1,39.3,38.7]),(7.05,[43.1,42.3,41.5,40.8,40,39.3,38.6]),(7.35,[42.8,42,41.3,40.5,39.8,39,38.4]),(7.65,[42.8,42,41.3,40.5,39.8,39,38.3]),
(7.95,[42.6,41.8,41.1,40.3,39.6,38.9,38.2]),(8.25,[42.9,42.1,41.3,40.6,39.8,39.1,38.3]),(8.55,[42.5,41.8,41,40.3,39.5,38.8,38.1]),(8.85,[42.6,41.8,41.1,40.4,39.6,38.8,38.2]),(9.15,[42.4,41.6,40.9,40.1,39.4,38.6,37.9]),(9.45,[42.7,41.9,41.1,40.4,39.6,38.9,38.1]),(9.75,[42.4,41.7,40.9,40.2,39.4,38.7,37.9]),
(10.05,[42.6,41.8,41.1,40.3,39.5,38.8,38]),(10.35,[42.9,42.1,41.3,40.5,39.8,39,38.3]),(10.65,[42.5,41.8,41,40.3,39.5,38.7,38]),(10.95,[43,42.2,41.4,40.7,39.9,39.1,38.4]),(11.25,[43.2,42.4,41.6,40.9,40.1,39.4,38.6]),(11.55,[43.7,42.9,42.1,41.4,40.6,39.8,39.1,38.4]),(11.85,[43.4,42.6,41.9,41.1,40.4,39.6,38.9]),
(12.15,[44.2,43.4,42.6,41.9,41.1,40.3,39.6,38.8]),(12.45,[44.7,43.8,43,42.2,41.4,40.7,39.9,39.1]),(12.75,[45,44.1,43.3,42.5,41.7,40.9,40.1,39.4,38.6]),(13.05,[45.7,44.8,44,43.2,42.4,41.6,40.9,40.1,39.3]),(13.35,[46.3,45.5,44.7,43.9,43.1,42.3,41.5,40.8,40,39.2]),
(13.65,[46.9,46.1,45.3,44.5,43.7,42.9,42.1,41.3,40.5,39.7,39]),(13.95,[47.3,46.5,45.7,44.9,44.1,43.3,42.5,41.7,40.9,40.1,39.3]),(14.25,[47.1,46.3,45.5,44.7,43.9,43.1,42.3,41.5,40.7,39.9,39.1]),(14.55,[47.7,46.9,46.1,45.3,44.5,43.7,42.9,42.1,41.3,40.5,39.7,39]),(14.85,[47.5,46.7,45.9,45.1,44.3,43.5,42.7,41.9,41.1,40.3,39.5]),
(15.15,[47.8,47,46.2,45.4,44.6,43.8,43,42.2,41.4,40.6,39.8,39.1]),(15.45,[47.6,46.8,46,45.2,44.4,43.6,42.8,42,41.2,40.4,39.6]),(15.75,[48,47.2,46.4,45.6,44.8,44,43.2,42.4,41.6,40.8,40,39.3]),(16.05,[48.2,47.4,46.6,45.8,45,44.2,43.4,42.6,41.8,41,40.2,39.5]),(16.35,[48.6,47.8,47,46.2,45.4,44.6,43.8,43,42.2,41.4,40.6,39.8]),
(16.65,[49,48.2,47.4,46.6,45.8,45,44.2,43.4,42.6,41.8,41,40.2,39.5]),(16.95,[49.3,48.5,47.7,46.9,46.1,45.3,44.5,43.7,42.9,42.1,41.3,40.5,39.7]),(17.25,[49.1,48.3,47.5,46.7,45.9,45.1,44.3,43.5,42.7,41.9,41.1,40.3,39.6]),(17.55,[49.6,48.8,48,47.2,46.4,45.6,44.8,44,43.2,42.4,41.6,40.8,40]),(17.85,[49.5,48.7,47.9,47.1,46.3,45.5,44.7,43.9,43.1,42.3,41.5,40.7,39.9]),
(18.15,[49.8,49,48.2,47.4,46.6,45.8,45,44.2,43.4,42.6,41.8,41,40.2]),(18.45,[49.6,48.8,48,47.2,46.4,45.6,44.8,44,43.2,42.4,41.6,40.8]),(18.75,[49.9,49.1,48.3,47.5,46.7,45.9,45.1,44.3,43.5,42.7,41.9,41.1]),(19.05,[49.7,48.9,48.1,47.3,46.5,45.7,44.9,44.1,43.3,42.5,41.7,41]),(19.35,[50,49.2,48.4,47.6,46.8,46,45.2,44.4,43.6,42.8,42,41.3]),
(19.65,[49.8,49,48.2,47.4,46.6,45.8,45,44.2,43.4,42.6,41.8]),(19.95,[50.1,49.3,48.5,47.7,46.9,46.1,45.3,44.5,43.7,42.9,42.1]),(20.25,[49.9,49.1,48.3,47.5,46.7,45.9,45.1,44.3,43.5,42.7,42]),(20.55,[50.2,49.4,48.6,47.8,47,46.2,45.4,44.6,43.8,43,42.3]),(20.85,[50,49.2,48.4,47.6,46.8,46,45.2,44.4,43.6,42.8]),
(21.15,[50.3,49.5,48.7,47.9,47.1,46.3,45.5,44.7,43.9,43.1]),(21.45,[49.9,49.1,48.3,47.5,46.7,45.9,45.1,44.3,43.5]),(21.75,[50.2,49.4,48.6,47.8,47,46.2,45.4,44.6,43.8]),(22.05,[50,49.2,48.4,47.6,46.8,46,45.2,44.4,43.7]),(22.35,[50.2,49.4,48.6,47.8,47,46.2,45.4,44.6]),
(22.65,[49.9,49.1,48.3,47.5,46.7,45.9,45.1]),(22.95,[50.4,49.6,48.8,48,47.2,46.4,45.6,44.9]),(23.25,[50,49.2,48.4,47.6,46.8,46,45.3]),(23.55,[50.3,49.5,48.7,47.9,47.1,46.3,45.6]),(23.85,[50.1,49.3,48.5,47.7,46.9,46.1]),
(24.15,[50.4,49.6,48.8,48,47.2,46.4]),(24.45,[50,49.2,48.4,47.6,46.8,46.1]),(24.75,[50.5,49.7,48.9,48.1,47.3,46.6]),(25.05,[50.2,49.4,48.6,47.8,47]),(25.35,[50.5,49.7,48.9,48.1,47.3]),
(25.65,[50.1,49.3,48.5,47.7]),(25.95,[50.3,49.5,48.7,47.9]),(26.25,[50,49.2,48.4,47.6]),(26.55,[50.4,49.6,48.8,48]),(26.85,[50.1,49.3,48.5,47.8]),
(27.15,[49.9,49.1,48.3,47.6]),(27.45,[50.3,49.5,48.7,47.9]),(27.75,[50,49.2,48.4,47.7]),(28.05,[50.5,49.7,48.9,48.1]),(28.35,[49.9,49.1,48.3,47.6]),(28.65,[49.8,49,48.2]),(28.95,[49.9,49.2,48.5]),
]

fig = plt.figure(figsize=(9.78, 6.46), dpi=100)
ax = fig.add_axes([87/978, 66/646, 834/978, 510.5/646])

fx = [p[0] for p in fram_tail + fram_low + fram_high + fram_right] + fram_row_x
fy = [p[1] for p in fram_tail + fram_low + fram_high + fram_right] + fram_row_y
for col_x, col_y in fram_cold + fram_fill + fram_flat:
    fx += [col_x] * len(col_y)
    fy += col_y

rx = [p[0] for p in ret_tail + ret_right]
ry = [p[1] for p in ret_tail + ret_right]
for col_x, col_y in ret_cols + ret_fill:
    rx += [col_x] * len(col_y)
    ry += col_y

ax.scatter(fx, fy, s=8.5, c='#FF0000', linewidths=0, zorder=3)
ax.scatter(rx, ry, s=10, c='#5B9BD5', linewidths=0, zorder=3)

ax.set_xlim(-15, 35)
ax.set_ylim(20, 120)
ax.set_xticks(x_ticks)
ax.set_yticks(y_ticks)
ax.grid(True, color='#D9D9D9', linewidth=1)
ax.set_axisbelow(True)
ax.tick_params(length=0, labelsize=12, labelcolor='#595959', pad=13)
ax.tick_params(axis='x', pad=13)
for s in ['top', 'right']:
    ax.spines[s].set_color('#D9D9D9')
for s in ['left', 'bottom']:
    ax.spines[s].set_color('#BFBFBF')

handles = [Line2D([], [], marker='o', ls='', ms=3.2, mew=0, color='#FF0000', label='Framledning'),
           Line2D([], [], marker='o', ls='', ms=3.2, mew=0, color='#5B9BD5', label='Returledning')]
leg = ax.legend(handles=handles, loc='upper left', bbox_to_anchor=(727/978, (646-106.5)/646),
                bbox_transform=fig.transFigure, frameon=True, framealpha=1, edgecolor='none', fontsize=13,
                labelcolor='#595959', labelspacing=0.78, handlelength=0.9, handletextpad=0.1, borderpad=0.3,
                borderaxespad=0, fancybox=False)
leg.set_zorder(2.5)

fig.text(40/978, 1-40/646, 'Nättemperatur, °C', fontsize=13.8, color='#595959', va='center', ha='left')
fig.text(504/978, 1-633/646, 'Utetemperatur, °C', fontsize=13.8, color='#595959', va='center', ha='center')

# chart frame, only top and left fall inside the picture
fig.add_artist(Line2D([10/978, 10/978, 1], [0, 1-11/646, 1-11/646], transform=fig.transFigure, color='#E4E4E4', lw=1))

fig.savefig('out.png', dpi=100)
